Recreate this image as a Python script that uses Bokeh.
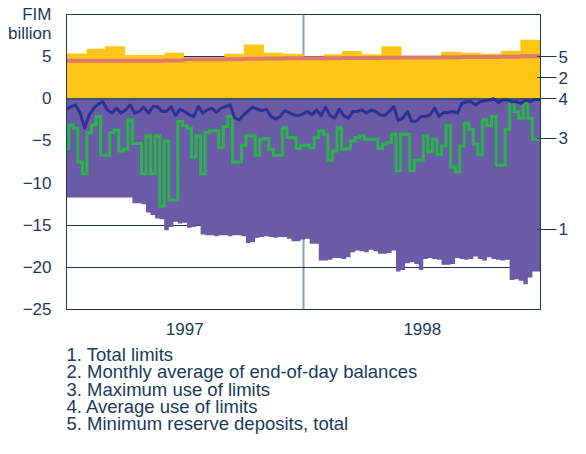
import numpy as np
import pandas as pd
from bokeh.plotting import figure
from bokeh.models import FixedTicker, LinearAxis, Span, Range1d, Title
from bokeh.embed import file_html
from bokeh.resources import INLINE

# ---------------- data ----------------
month_starts = pd.date_range("1997-01-01", "1999-01-01", freq="MS")
month_edges = (month_starts - month_starts[0]).days.to_numpy().astype(float)

# 2. Monthly average of end-of-day balances (FIM bn)
balances = [5.38, 5.93, 6.24, 5.2, 5.2, 5.47, 4.8, 4.8, 5.35, 6.43, 5.47, 5.35,
            4.95, 5.27, 5.66, 5.27, 6.24, 4.95, 4.98, 5.58, 5.47, 5.35, 5.66, 7.0]
# 5. Minimum reserve deposits, total
reserve = [4.5, 4.5, 4.5, 4.5, 4.5, 4.55, 4.68, 4.68, 4.7, 4.75, 4.78, 4.8,
           4.8, 4.82, 4.85, 4.85, 4.88, 4.9, 4.9, 4.92, 4.95, 4.97, 5.0, 5.05]

# weekly series (week index -> day offset from 1 Jan 1997)
week_days = np.arange(104) * 7.0

# 1. Total limits (negative side)
total_limits = [-11.7, -11.7, -11.7, -11.7, -11.7, -11.7, -11.7, -11.7, -11.7, -11.7,
                -11.7, -11.7, -11.7, -11.7, -11.7, -12.4, -12.4, -12.5, -13.5, -13.8,
                -14.2, -14.3, -15.6, -15.2, -14.6, -14.8, -14.7, -15.3, -15.2, -15.0,
                -16.1, -16.2, -16.2, -16.3, -16.2, -16.2, -16.3, -16.2, -16.2, -16.3,
                -17.1, -17.0, -16.5, -16.4, -16.3, -16.4, -16.5, -16.4, -16.4, -16.6,
                -16.9, -16.9, -16.7, -16.6, -17.2, -17.2, -19.2, -19.2, -19.1, -18.9,
                -18.9, -19.0, -18.8, -18.2, -18.0, -18.1, -18.2, -17.9, -18.1, -18.4,
                -18.4, -18.3, -18.0, -20.5, -20.3, -19.5, -19.4, -19.6, -20.3, -19.0,
                -18.9, -19.0, -19.1, -19.7, -19.7, -19.6, -18.9, -19.0, -19.1, -19.0,
                -18.7, -19.0, -19.2, -18.8, -19.0, -19.1, -19.2, -19.1, -21.5, -21.4,
                -21.6, -22.0, -21.2, -20.5]

# 3. Maximum use of limits
max_use = [-5.9, -3.1, -3.5, -7.5, -8.9, -4.0, -3.1, -2.1, -6.7, -6.7,
           -4.0, -3.7, -6.2, -6.0, -2.5, -5.3, -5.3, -8.9, -4.4, -8.9,
           -4.4, -12.75, -5.0, -12.0, -12.0, -2.7, -3.2, -3.5, -6.9, -4.4,
           -8.9, -4.0, -3.8, -3.8, -5.8, -3.3, -2.1, -7.5, -7.5, -5.5,
           -4.4, -4.4, -6.7, -4.8, -4.7, -6.0, -6.7, -6.7, -3.45, -4.6,
           -4.6, -5.9, -5.5, -5.5, -5.8, -4.6, -3.8, -4.2, -7.3, -6.2,
           -3.45, -6.0, -5.9, -5.0, -4.6, -4.4, -4.8, -4.8, -4.8, -5.9,
           -5.4, -5.2, -4.2, -8.5, -4.2, -4.2, -8.5, -7.3, -7.3, -4.4,
           -6.3, -4.8, -6.6, -5.6, -3.2, -8.1, -8.7, -5.6, -2.9, -3.6,
           -5.4, -6.6, -2.5, -3.2, -2.1, -7.9, -7.9, -3.6, -0.5, -1.5,
           -2.3, -0.5, -2.3, -4.8]

# 4. Average use of limits
avg_use = [-1.24, -0.93, -0.74, -1.7, -3.45, -1.9, -1.12, -0.62, -0.35, -1.32,
           -1.7, -1.12, -1.7, -1.32, -0.74, -1.7, -1.51, -1.0, -1.7, -0.93,
           -0.93, -1.51, -1.51, -0.93, -2.0, -1.24, -1.51, -1.9, -2.1, -0.93,
           -1.7, -1.32, -1.12, -1.63, -1.12, -0.93, -0.74, -2.29, -2.48, -1.9,
           -1.4, -1.0, -1.24, -1.4, -1.24, -2.1, -2.4, -2.1, -1.4, -1.63,
           -1.9, -2.0, -1.78, -1.51, -1.9, -1.32, -2.0, -1.0, -2.0, -2.29,
           -1.24, -2.0, -2.29, -1.51, -1.51, -1.32, -1.7, -1.32, -1.51, -1.9,
           -2.0, -1.51, -0.93, -2.56, -2.29, -1.51, -2.67, -2.67, -2.1, -2.1,
           -1.9, -1.12, -2.1, -1.63, -1.63, -1.51, -1.7, -0.54, -0.35, -0.35,
           -0.74, -0.35, -0.23, -0.15, 0.0, -0.46, -0.15, -0.15, -0.35, -0.35,
           -0.54, -0.15, -0.35, -0.07]

y_ticks = [-25, -20, -15, -10, -5, 0, 5]
unit_ticks = [7.75, 9.98]
unit_labels = ["billion", "FIM"]
year_ticks = [182, 548]
year_labels = ["1997", "1998"]
right_ticks = [5.0, 2.5, 0.0, -4.7, -15.5]
right_labels = ["5", "2", "4", "3", "1"]
legend_lines = ["1. Total limits",
                "2. Monthly average of end-of-day balances",
                "3. Maximum use of limits",
                "4. Average use of limits",
                "5. Minimum reserve deposits, total"]

# ---------------- helpers ----------------
def center_step(x, y, x0, x1):
    x = np.asarray(x, float)
    y = np.asarray(y, float)
    mids = (x[:-1] + x[1:]) / 2
    edges = np.concatenate([[x0], mids, [x1]])
    return np.repeat(edges, 2)[1:-1], np.repeat(y, 2)


def edge_step(edges, y):
    return np.repeat(np.asarray(edges, float), 2)[1:-1], np.repeat(np.asarray(y, float), 2)


NAVY = "#1B3A5C"
FONT = "Liberation Sans"
PURPLE = "#6A5BA6"
YELLOW = "#FDC516"
SALMON = "#DE7A6C"
GREEN = "#2BB24C"
BLUE = "#2E3092"

p = figure(width=570, height=438, output_backend="svg", toolbar_location=None,
           x_range=Range1d(0, 730), y_range=Range1d(-25, 10),
           min_border_left=66, min_border_right=27, min_border_top=14,
           min_border_bottom=0)
p.background_fill_color = "white"
p.border_fill_color = "white"
p.outline_line_color = NAVY
p.outline_line_width = 1
p.outline_line_alpha = 1

# grids
p.xgrid.ticker = FixedTicker(ticks=[365])
p.xgrid.grid_line_color = "#8D9DB3"
p.xgrid.grid_line_width = 2
p.ygrid.ticker = FixedTicker(ticks=[-20, -15, -10, -5, 5])
p.ygrid.grid_line_color = NAVY
p.ygrid.grid_line_width = 1

# areas
bx, by = edge_step(month_edges, balances)
p.varea(x=bx, y1=np.zeros_like(by), y2=by, fill_color=YELLOW)

tx, ty = center_step(week_days, total_limits, 0, 730)
p.varea(x=tx, y1=np.zeros_like(ty), y2=ty, fill_color=PURPLE)

# min reserve line
rx, ry = edge_step(month_edges, reserve)
p.line(rx, ry, line_color=SALMON, line_width=4)

# max use (step)
gx, gy = center_step(week_days, max_use, 0, 730)
p.line(gx, gy, line_color=GREEN, line_width=3, line_join="miter")

# average use
ax_ = np.append(week_days, 730.0)
ay_ = np.append(np.asarray(avg_use), avg_use[-1])
p.line(ax_, ay_, line_color=BLUE, line_width=3, line_join="round")

p.add_layout(Span(location=0, dimension="width", line_color=NAVY, line_width=1.2))

# axes
for ax in [p.xaxis[0], p.yaxis[0]]:
    ax.axis_line_color = NAVY
    ax.major_tick_line_color = None
    ax.minor_tick_line_color = None
    ax.major_tick_out = 0
    ax.major_tick_in = 0
    ax.major_label_text_font = FONT
    ax.major_label_text_font_size = "17px"
    ax.major_label_text_color = NAVY

p.yaxis[0].ticker = FixedTicker(ticks=y_ticks + unit_ticks)
p.yaxis[0].major_label_overrides = dict(zip(unit_ticks, unit_labels))
p.yaxis[0].major_label_standoff = 15
p.xaxis[0].ticker = FixedTicker(ticks=year_ticks)
p.xaxis[0].major_label_overrides = dict(zip(year_ticks, year_labels))
p.xaxis[0].major_label_standoff = 13

rax = LinearAxis(ticker=FixedTicker(ticks=right_ticks),
                 major_label_overrides=dict(zip(right_ticks, right_labels)))
rax.axis_line_color = NAVY
rax.major_tick_line_color = NAVY
rax.major_tick_line_width = 1
rax.major_tick_in = 3
rax.major_tick_out = 16
rax.minor_tick_line_color = None
rax.major_label_standoff = 2
rax.major_label_text_font = FONT
rax.major_label_text_font_size = "17px"
rax.major_label_text_color = NAVY
p.add_layout(rax, "right")

# legend lines below the chart
legend = Title(text="\n".join(legend_lines), align="left", text_font=FONT,
               text_font_size="18.5px", text_font_style="normal", text_color=NAVY,
               text_line_height=0.82, standoff=9, offset=0)
p.add_layout(legend, "below")

open("out.html", "w").write(file_html(p, INLINE))
